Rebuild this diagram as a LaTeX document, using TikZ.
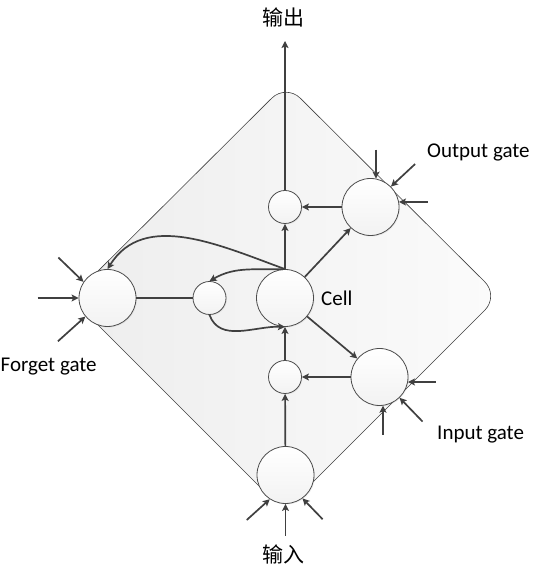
\documentclass[tikz,border=0pt]{standalone}
\usepackage{fontspec}
\setmainfont{Carlito}
\newfontfamily\cjk{Noto Sans CJK SC}
\usetikzlibrary{positioning,arrows.meta,shadows}

\begin{document}
\begin{tikzpicture}[x=1pt,y=1pt,
    font=\fontsize{21}{25}\selectfont,
    unit/.style={circle,draw=black!70,line width=0.8pt,top color=white,bottom color=black!5,
        minimum size=57pt,inner sep=0pt,drop shadow={opacity=0.12,shadow xshift=1pt,shadow yshift=-1pt}},
    mult/.style={unit,minimum size=33pt},
    arr/.style={draw=black!75,line width=1.7pt,-{Stealth[length=7pt,width=7pt,inset=1.5pt]}},
    lnk/.style={draw=black!75,line width=1.4pt},
    lbl/.style={inner sep=0pt,anchor=west}]
    \useasboundingbox (0,0) rectangle (532,569);
    \draw[black!75,line width=0.6pt,rounded corners=20pt,left color=black!7,right color=black!1.5]
        (392.5,379) -- (499,273) -- (284,58) -- (71,271) -- (286,485) -- cycle;
    \node[unit] (fg) at (107.5,271) {};
    \node[mult] (mf) at (209.5,271) {};
    \node[unit] (cell) at (285,271) {};
    \node[mult] (mo) at (285,362) {};
    \node[unit] (og) at (370.5,362) {};
    \node[mult] (mi) at (285,192) {};
    \node[unit] (ig) at (379.5,192) {};
    \node[unit] (inp) at (285.5,94) {};
    \coordinate (top) at (285,528);
    \node (outtxt) at (283,552) {\cjk 输出};
    \node (intxt) at (283,15) {\cjk 输入};
    \node[lbl,right=7pt of cell] (celltxt) {Cell};
    \node[lbl] (ogtxt) at (427,417) {Output gate};
    \node[lbl] (igtxt) at (437,134) {Input gate};
    \node[lbl] (fgtxt) at (0.5,202) {Forget gate};
    \draw[arr,line width=1.4pt] (mo) -- (top);
    \foreach \s/\t in {cell/mo, og/mo, cell/og, cell/ig, ig/mi, mi/cell, inp/mi}
        \draw[arr] (\s) -- (\t);
    \draw[lnk] (fg) -- (mf);
    \draw[arr] (cell.north) to[out=182,in=30] (mf.north);
    \draw[arr] (mf.south) to[out=-70,in=178] (cell.south);
    \draw[arr] (cell.north) to[out=160,in=58] (fg.north);
    \foreach \n/\a/\b/\l in {fg/180/180/41, fg/146/136/35, fg/220/222/37,
        og/79/90/29, og/45/43/33, og/10/0/29,
        ig/-10/0/28, ig/-46/-46/33, ig/-83/-90/29,
        inp/-90/-90/32, inp/237/222/31, inp/-54/-46/29}
        \draw[arr] ([shift={(\b:\l)}]\n.\a) -- (\n.\a);
\end{tikzpicture}
\end{document}
